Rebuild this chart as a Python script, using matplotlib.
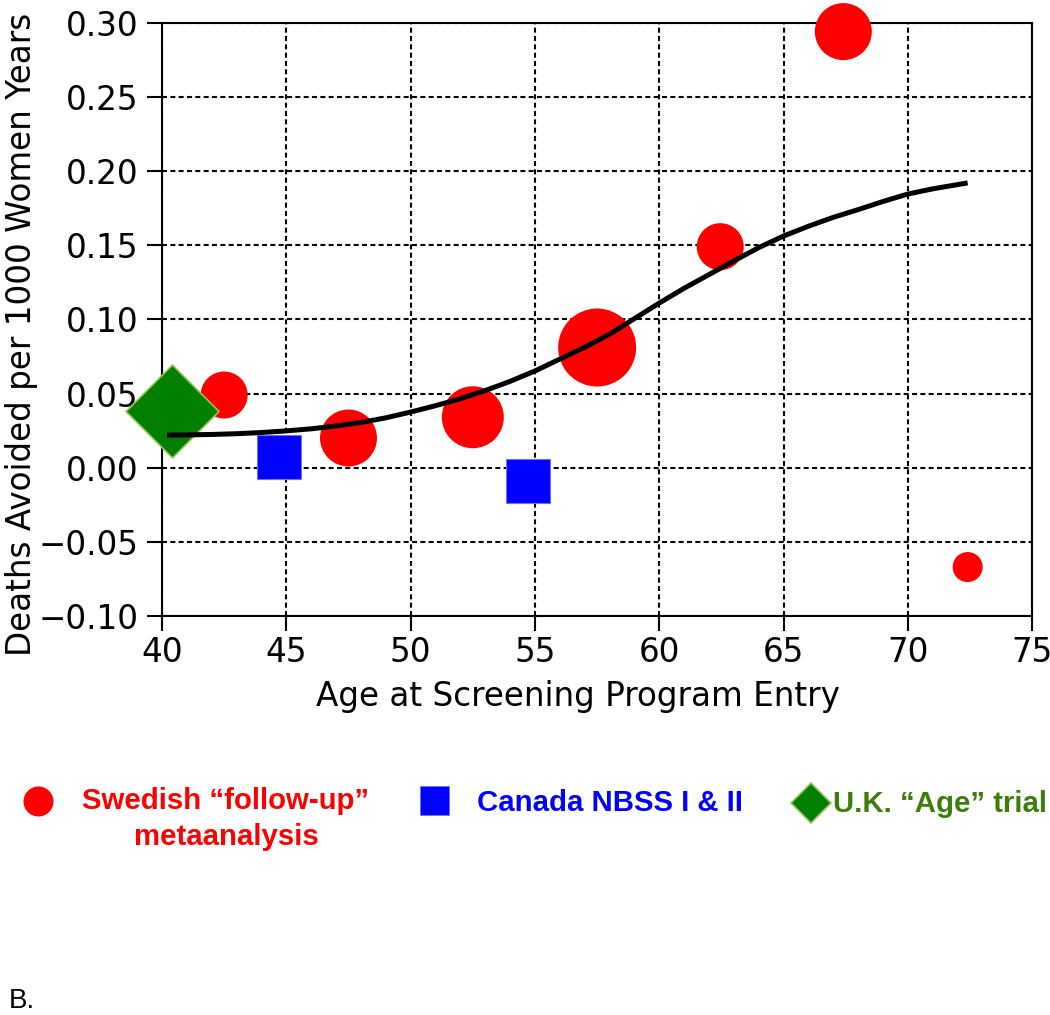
import matplotlib
matplotlib.use('Agg')
import matplotlib.pyplot as plt
from matplotlib.lines import Line2D
from matplotlib.ticker import FuncFormatter

# ---------------- data ----------------
swedish_age = [42.5, 47.5, 52.5, 57.5, 62.45, 67.4, 72.4]
swedish_val = [0.049, 0.020, 0.034, 0.081, 0.149, 0.294, -0.067]
swedish_diam_px = [47, 57, 62, 78, 47, 57, 30]

canada_age = [44.7, 54.7]
canada_val = [0.007, -0.009]

uk_age = [40.4]
uk_val = [0.038]

fit_age = [40.2, 41, 42, 43, 44, 45, 46, 47, 48, 49, 50, 51, 52, 53, 54, 55,
           56, 57, 58, 59, 60, 61, 62, 63, 64, 65, 66, 67, 68, 69, 70, 71, 72.4]
fit_val = [0.0220, 0.0221, 0.0224, 0.0229, 0.0237, 0.0248, 0.0262, 0.0281,
           0.0305, 0.0336, 0.0375, 0.0418, 0.0465, 0.0520, 0.0582, 0.0652,
           0.0732, 0.0812, 0.0900, 0.1005, 0.1110, 0.1210, 0.1302, 0.1394,
           0.1484, 0.1562, 0.1628, 0.1688, 0.1740, 0.1795, 0.1845, 0.1880, 0.1920]

x_ticks = [40, 45, 50, 55, 60, 65, 70, 75]
y_ticks = [-0.10, -0.05, 0.00, 0.05, 0.10, 0.15, 0.20, 0.25, 0.30]

legend_labels = ['Swedish \u201cfollow-up\u201d', 'metaanalysis',
                 'Canada NBSS I & II', 'U.K. \u201cAge\u201d trial']
panel_label = 'B.'

# ---------------- figure ----------------
W, H = 1050, 1015
fig = plt.figure(figsize=(W / 100, H / 100), dpi=100)
plt.rcParams['font.family'] = ['DejaVu Sans']

def fx(x):
    return x / W

def fy(y):
    return 1 - y / H

ax = fig.add_axes([fx(162), fy(616), (1032.3 - 162) / W, (616 - 22.7) / H])
ax.set_xlim(40, 75)
ax.set_ylim(-0.10, 0.30)
ax.set_xticks(x_ticks)
ax.set_yticks(y_ticks)
ax.yaxis.set_major_formatter(FuncFormatter(
    lambda v, p: f"{round(v, 2):.2f}".replace('-', '\u2212') if abs(v) > 1e-9 else "0.00"))

for s in ax.spines.values():
    s.set_linewidth(1.5)
    s.set_zorder(2.5)

ax.tick_params(axis='both', labelsize=23.5, width=1.5, length=10.5, direction='out')
ax.tick_params(axis='y', pad=6.5)
ax.tick_params(axis='x', pad=4)

ax.grid(True, color='black', linewidth=1.5, linestyle=(0, (2.4, 1.6)), zorder=1)
ax.set_axisbelow(True)

# Swedish circles
sizes = [(d * 0.72) ** 2 for d in swedish_diam_px]
ax.scatter(swedish_age, swedish_val, s=sizes, c='#ff0000', marker='o',
           linewidths=0, zorder=3, clip_on=False)
# Canada squares
ax.scatter(canada_age, canada_val, s=(43.5 * 0.72) ** 2, c='#0000ff', marker='s',
           edgecolors='#6f6fff', linewidths=0.8, zorder=3, clip_on=False)
# UK diamond
ax.scatter(uk_age, uk_val, s=(93 * 0.72 / 1.414) ** 2, c='#008000', marker='D',
           edgecolors='#9cc35c', linewidths=1.2, zorder=3.5, clip_on=False)
# fitted curve
ax.plot(fit_age, fit_val, color='black', linewidth=3.6, zorder=4,
        solid_capstyle='butt', solid_joinstyle='round', clip_on=False)

ax.set_xlabel('Age at Screening Program Entry', fontsize=23.5)
ax.set_ylabel('Deaths Avoided per 1000 Women Years', fontsize=23.5)
ax.xaxis.set_label_coords(0.478, -0.108)
ax.yaxis.set_label_coords(-0.143, 0.474)

# ---------------- legend (below) ----------------
lf = 'Liberation Sans'
fig.add_artist(Line2D([fx(38)], [fy(801)], marker='o', markersize=30 * 0.72,
                      color='#ff0000', markeredgewidth=0, linestyle='none',
                      transform=fig.transFigure))
fig.text(fx(226), fy(809), legend_labels[0], color='#ff0000', fontsize=21.2,
         fontweight='bold', family=lf, ha='center', va='baseline')
fig.text(fx(226), fy(845), legend_labels[1], color='#ff0000', fontsize=21.2,
         fontweight='bold', family=lf, ha='center', va='baseline')

fig.add_artist(Line2D([fx(433.5)], [fy(799.5)], marker='s', markersize=29 * 0.72,
                      color='#0000ff', markeredgecolor='#7070ff', markeredgewidth=0.6,
                      linestyle='none', transform=fig.transFigure))
fig.text(fx(477), fy(811), legend_labels[2], color='#0000ff', fontsize=21.2,
         fontweight='bold', family=lf, ha='left', va='baseline')

fig.add_artist(Line2D([fx(811)], [fy(803)], marker='D', markersize=39 * 0.72 / 1.414,
                      color='#008000', markeredgecolor='#9cc35c', markeredgewidth=1.2,
                      linestyle='none', transform=fig.transFigure))
fig.text(fx(833), fy(812), legend_labels[3], color='#3c7d0c', fontsize=21.2,
         fontweight='bold', family=lf, ha='left', va='baseline')

fig.text(fx(9), fy(1008), panel_label, color='black', fontsize=20,
         family=lf, ha='left', va='baseline')

fig.savefig('out.png', dpi=100, facecolor='white')
